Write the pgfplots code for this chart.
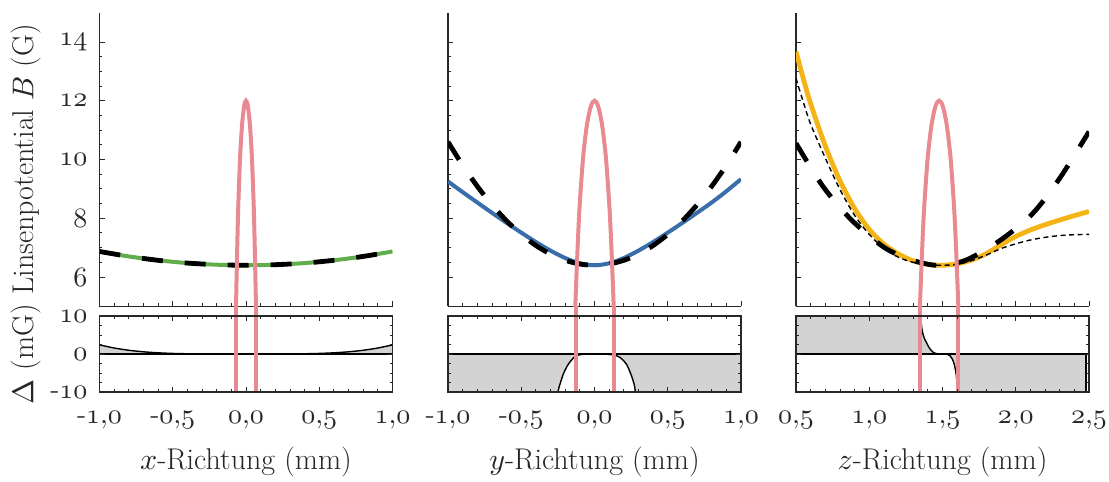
\documentclass[border=0pt]{standalone}
\DeclareFontShape{OML}{cmm}{m}{it}{<->cmmi10}{}
\DeclareFontShape{OT1}{cmr}{m}{n}{<->cmr10}{}
\DeclareFontShape{OMS}{cmsy}{m}{n}{<->cmsy10}{}
\usepackage{pgfplots}
\pgfplotsset{compat=1.18}
\newcommand\os[1]{$\mathnormal{#1}$}
\definecolor{cpink}{RGB}{233,137,145}
\definecolor{cgreen}{RGB}{98,173,75}
\definecolor{cblue}{RGB}{57,110,171}
\definecolor{corange}{RGB}{244,180,22}
\definecolor{cfill}{RGB}{211,211,211}
\definecolor{caxis}{RGB}{40,40,40}
\pgfplotsset{
  base/.style={scale only axis, width=146.5pt, enlargelimits=false,
    tick align=inside, major tick length=2.6pt, minor tick length=1.5pt,
    every tick/.style={caxis, line width=0.45pt},
    axis line style={caxis, line width=0.7pt},
    ticklabel style={font=\fontsize{14}{16}\selectfont, text=black!85},
    yticklabel style={xshift=-2.5pt},
    every axis y label/.style={at={(axis description cs:-0.251,0.5)}, rotate=90, anchor=center,
      font=\fontsize{15}{17}\selectfont, text=black!85},
    every axis x label/.style={at={(axis description cs:0.5,-0.921)}, anchor=center,
      font=\fontsize{15}{17}\selectfont, text=black!85},
    minor x tick num=4},
  top/.style={base, height=146.9pt, ymin=5, ymax=15, axis lines*=left,
    ytick={6,8,10,12,14}, minor y tick num=3, xticklabels={}},
  bot/.style={base, height=38pt, ymin=-10, ymax=10, ytick={-10,0,10},
    minor y tick num=3, clip=false, axis on top, xtick pos=both, ytick pos=both,
    xticklabel style={anchor=base, yshift=-16pt}},
  pinkl/.style={cpink, line width=2pt},
  thickdash/.style={black, line width=2.4pt, dash pattern=on 10.5pt off 11pt},
  thindash/.style={black, line width=0.7pt, dash pattern=on 2.5pt off 1.8pt},
}
\begin{document}
\begin{tikzpicture}
% ---------------- column 1 : x ----------------
\begin{axis}[top, at={(49.75pt,87.8pt)}, anchor=south west,
  xmin=-1, xmax=1, xtick={-1,-0.5,0,0.5,1},
  yticklabels={\os{6},\os{8},\os{10},\os{12},\os{14}}, ylabel={Linsenpotential $B$ (G)}]
\addplot[cgreen, line width=2pt, smooth] coordinates {(-1,6.87)(-0.8,6.701)(-0.6,6.569)(-0.4,6.475)(-0.2,6.419)(0,6.4)(0.2,6.419)(0.4,6.475)(0.6,6.569)(0.8,6.701)(1,6.87)};
\addplot[thickdash, smooth] coordinates {(-1,6.87)(-0.8,6.701)(-0.6,6.569)(-0.4,6.475)(-0.2,6.419)(0,6.4)(0.2,6.419)(0.4,6.475)(0.6,6.569)(0.8,6.701)(1,6.87)};
\addplot[pinkl, smooth] coordinates {(-0.0748,2.9)(-0.068,5)(-0.0612,6.7)(-0.0544,8.13)(-0.0476,9.15)(-0.0408,10.03)(-0.034,10.65)(-0.0272,11.16)(-0.0204,11.52)(-0.0136,11.79)(-0.0068,11.95)(0,12)(0.0068,11.95)(0.0136,11.79)(0.0204,11.52)(0.0272,11.16)(0.034,10.65)(0.0408,10.03)(0.0476,9.15)(0.0544,8.13)(0.0612,6.7)(0.068,5)(0.0748,2.9)};
\end{axis}
\begin{axis}[bot, at={(49.75pt,45pt)}, anchor=south west,
  xmin=-1, xmax=1, xtick={-1,-0.5,0,0.5,1},
  xticklabels={{-\os{1{,}0}},{-\os{0{,}5}},{\os{0{,}0}},{\os{0{,}5}},{\os{1{,}0}}},
  yticklabels={{-\os{10}},\os{0},\os{10}}, ylabel={$\Delta$ (mG)}, xlabel={$x$-Richtung (mm)}]
\addplot[fill=cfill, draw=none] coordinates {(-1,2.4)(-0.9,1.575)(-0.8,0.983)(-0.7,0.576)(-0.6,0.311)(-0.5,0.15)(-0.4,0.061)(-0.3,0.019)(-0.2,0.004)(0,0)(0.2,0.004)(0.3,0.019)(0.4,0.061)(0.5,0.15)(0.6,0.311)(0.7,0.576)(0.8,0.983)(0.9,1.575)(1,2.4)} \closedcycle;
\addplot[black, line width=0.7pt, smooth] coordinates {(-1,2.4)(-0.9,1.575)(-0.8,0.983)(-0.7,0.576)(-0.6,0.311)(-0.5,0.15)(-0.4,0.061)(-0.3,0.019)(-0.2,0.004)(0,0)(0.2,0.004)(0.3,0.019)(0.4,0.061)(0.5,0.15)(0.6,0.311)(0.7,0.576)(0.8,0.983)(0.9,1.575)(1,2.4)};
\addplot[black, line width=0.7pt] coordinates {(-1,0)(1,0)};
\addplot[pinkl] coordinates {(-0.067,-10)(-0.067,12.5)};
\addplot[pinkl] coordinates {(0.067,-10)(0.067,12.5)};
\end{axis}
% ---------------- column 2 : y ----------------
\begin{axis}[top, at={(224pt,87.8pt)}, anchor=south west,
  xmin=-1, xmax=1, xtick={-1,-0.5,0,0.5,1}, yticklabels={}]
\addplot[cblue, line width=2pt, smooth] coordinates {(-1,9.25)(-0.9,8.89)(-0.8,8.536)(-0.7,8.186)(-0.6,7.843)(-0.5,7.51)(-0.4,7.191)(-0.3,6.897)(-0.2,6.646)(-0.1,6.467)(0,6.4)(0.1,6.467)(0.2,6.646)(0.3,6.897)(0.4,7.191)(0.5,7.51)(0.6,7.843)(0.7,8.186)(0.8,8.536)(0.9,8.92)(1,9.33)};
\addplot[thickdash, smooth] coordinates {(-1,10.6)(-0.9,9.802)(-0.8,9.088)(-0.7,8.458)(-0.6,7.912)(-0.5,7.45)(-0.4,7.072)(-0.3,6.778)(-0.2,6.568)(-0.1,6.442)(0,6.4)(0.1,6.442)(0.2,6.568)(0.3,6.778)(0.4,7.072)(0.5,7.45)(0.6,7.912)(0.7,8.458)(0.8,9.088)(0.9,9.802)(1,10.6)};
\addplot[pinkl, smooth] coordinates {(-0.1441,2.9)(-0.131,5)(-0.1179,6.7)(-0.1048,8.13)(-0.0917,9.15)(-0.0786,10.03)(-0.0655,10.65)(-0.0524,11.16)(-0.0393,11.52)(-0.0262,11.79)(-0.0131,11.95)(0,12)(0.0131,11.95)(0.0262,11.79)(0.0393,11.52)(0.0524,11.16)(0.0655,10.65)(0.0786,10.03)(0.0917,9.15)(0.1048,8.13)(0.1179,6.7)(0.131,5)(0.1441,2.9)};
\end{axis}
\begin{axis}[bot, at={(224pt,45pt)}, anchor=south west,
  xmin=-1, xmax=1, xtick={-1,-0.5,0,0.5,1},
  xticklabels={{-\os{1{,}0}},{-\os{0{,}5}},{\os{0{,}0}},{\os{0{,}5}},{\os{1{,}0}}},
  yticklabels={}, xlabel={$y$-Richtung (mm)}]
\addplot[fill=cfill, draw=none] coordinates {(-1,-10)(-0.25,-10)(-0.237,-8.1)(-0.21,-5.0)(-0.177,-2.6)(-0.131,-0.6)(-0.086,-0.1)(-0.05,0)(0.05,0)(0.1,-0.1)(0.131,-0.25)(0.174,-0.9)(0.22,-2.8)(0.254,-5.9)(0.272,-8.2)(0.279,-10)(1,-10)} \closedcycle;
\addplot[black, line width=0.7pt, smooth] coordinates {(-0.25,-10)(-0.237,-8.1)(-0.21,-5.0)(-0.177,-2.6)(-0.131,-0.6)(-0.086,-0.1)(-0.05,0)(0.05,0)(0.1,-0.1)(0.131,-0.25)(0.174,-0.9)(0.22,-2.8)(0.254,-5.9)(0.272,-8.2)(0.279,-10)};
\addplot[black, line width=0.7pt] coordinates {(-1,0)(1,0)};
\addplot[pinkl] coordinates {(-0.129,-10)(-0.129,12.5)};
\addplot[pinkl] coordinates {(0.131,-10)(0.131,12.5)};
\end{axis}
% ---------------- column 3 : z ----------------
\begin{axis}[top, at={(398pt,87.8pt)}, anchor=south west,
  xmin=0.5, xmax=2.5, xtick={0.5,1,1.5,2,2.5}, yticklabels={}]
\addplot[corange, line width=2.4pt, smooth] coordinates {(0.5,13.67)(0.55,12.75)(0.6,11.9)(0.7,10.46)(0.8,9.28)(0.9,8.33)(1.0,7.62)(1.1,7.12)(1.2,6.78)(1.3,6.55)(1.4,6.43)(1.5,6.4)(1.6,6.45)(1.7,6.58)(1.8,6.8)(1.9,7.1)(2.0,7.38)(2.1,7.6)(2.2,7.78)(2.3,7.94)(2.4,8.09)(2.5,8.23)};
\addplot[thickdash, smooth] coordinates {(0.5,10.55)(0.686,9.07)(0.879,7.94)(1.095,7.03)(1.25,6.65)(1.368,6.47)(1.48,6.4)(1.663,6.58)(1.9,7.27)(2.117,8.17)(2.3,9.36)(2.5,10.95)};
\addplot[thindash, smooth] coordinates {(0.5,12.76)(0.55,11.95)(0.6,11.2)(0.7,10.05)(0.8,8.98)(0.9,8.1)(1.0,7.45)(1.1,6.98)(1.2,6.67)(1.3,6.5)(1.4,6.42)(1.5,6.4)(1.6,6.43)(1.7,6.56)(1.8,6.75)(1.9,6.97)(2.0,7.13)(2.1,7.26)(2.2,7.35)(2.3,7.41)(2.4,7.44)(2.5,7.45)};
\addplot[pinkl, smooth] coordinates {(1.3329,2.9)(1.346,5)(1.3591,6.7)(1.3722,8.13)(1.3853,9.15)(1.3984,10.03)(1.4115,10.65)(1.4246,11.16)(1.4377,11.52)(1.4508,11.79)(1.4639,11.95)(1.477,12)(1.4901,11.95)(1.5032,11.79)(1.5163,11.52)(1.5294,11.16)(1.5425,10.65)(1.5556,10.03)(1.5687,9.15)(1.5818,8.13)(1.5949,6.7)(1.608,5)(1.6211,2.9)};
\end{axis}
\begin{axis}[bot, at={(398pt,45pt)}, anchor=south west,
  xmin=0.5, xmax=2.5, xtick={0.5,1,1.5,2,2.5},
  xticklabels={{\os{0{,}5}},{\os{1{,}0}},{\os{1{,}5}},{\os{2{,}0}},{\os{2{,}5}}},
  yticklabels={}, xlabel={$z$-Richtung (mm)}]
\addplot[fill=cfill, draw=none] coordinates {(0.5,10)(1.35,10)(1.355,8)(1.362,6)(1.375,4.2)(1.392,2.9)(1.41,1.6)(1.437,0.4)(1.46,0.08)(1.48,0)(1.52,0)(1.55,-0.4)(1.565,-1.2)(1.578,-2.4)(1.59,-4.5)(1.597,-6.7)(1.601,-10)(2.48,-10)(2.48,0)(2.5,0)} \closedcycle;
\addplot[black, line width=0.7pt, smooth] coordinates {(1.35,10)(1.355,8)(1.362,6)(1.375,4.2)(1.392,2.9)(1.41,1.6)(1.437,0.4)(1.46,0.08)(1.48,0)(1.52,0)(1.55,-0.4)(1.565,-1.2)(1.578,-2.4)(1.59,-4.5)(1.597,-6.7)(1.601,-10)};
\addplot[black, line width=0.7pt] coordinates {(2.48,-10)(2.48,0)};
\addplot[black, line width=0.7pt] coordinates {(0.5,0)(2.5,0)};
\addplot[pinkl] coordinates {(1.346,-10)(1.346,12.5)};
\addplot[pinkl] coordinates {(1.608,-10)(1.608,12.5)};
\end{axis}
\pgfresetboundingbox
\useasboundingbox (0,0) rectangle (554.5pt,241pt);
\end{tikzpicture}
\end{document}
